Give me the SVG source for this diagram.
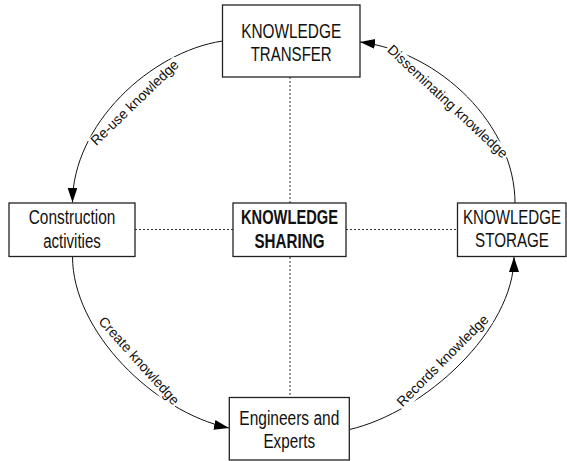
<svg xmlns="http://www.w3.org/2000/svg" width="567" height="461" viewBox="0 0 567 461">
  <style>
    .box { fill: #ffffff; stroke: #222222; stroke-width: 1.3; }
    .node-text { font-family: "Liberation Sans Narrow", "Arial Narrow", "Liberation Sans", Arial, sans-serif; font-size: 19.5px; fill: #111111; text-anchor: middle; }
    .bold { font-weight: bold; }
    .link { fill: none; stroke: #111111; stroke-width: 1; }
    .dotted { fill: none; stroke: #333333; stroke-width: 1; stroke-dasharray: 2 2; }
    .label { font-family: "Liberation Sans", Arial, sans-serif; font-size: 14px; fill: #111111; text-anchor: middle; }
    .label-bg { fill: #ffffff; }
  </style>
  <defs>
    <marker id="arrow" markerUnits="userSpaceOnUse" markerWidth="16" markerHeight="12" viewBox="0 0 16 12" refX="15" refY="6" orient="auto">
      <path d="M0,1 L15,6 L0,11 Z" fill="#000000"/>
    </marker>
  </defs>

  <rect width="567" height="461" fill="#ffffff"/>

  <!-- connectors -->
  <g id="connectors">
    <!-- dotted links to the central node -->
    <line class="dotted" x1="290" y1="77" x2="290" y2="203"/>
    <line class="dotted" x1="290" y1="257" x2="290" y2="397.5"/>
    <line class="dotted" x1="135" y1="229.5" x2="233" y2="229.5"/>
    <line class="dotted" x1="346" y1="229.5" x2="457.5" y2="229.5"/>

    <!-- cycle arcs -->
    <path id="reuse" class="link" d="M222.5,41 C150,52 72.5,125 72.5,202.5" marker-end="url(#arrow)"/>
    <path id="create" class="link" d="M72.5,256.5 C72.5,331.5 154,412 229,428" marker-end="url(#arrow)"/>
    <path id="records" class="link" d="M349.5,429.5 C425,412 514,330 514,257" marker-end="url(#arrow)"/>
    <path id="disseminate" class="link" d="M515,203 C515,125 440,52 360,42" marker-end="url(#arrow)"/>

    <!-- arc labels -->
    <g transform="translate(138,106) rotate(-44)">
      <rect class="label-bg" x="-60" y="-11" width="120" height="15"/>
      <text class="label" x="0" y="0">Re-use knowledge</text>
    </g>
    <g transform="translate(444.5,105) rotate(43)">
      <rect class="label-bg" x="-81" y="-11" width="162" height="15"/>
      <text class="label" x="0" y="0">Disseminating knowledge</text>
    </g>
    <g transform="translate(135.5,364) rotate(48)">
      <rect class="label-bg" x="-58" y="-11" width="116" height="15"/>
      <text class="label" x="0" y="0">Create knowledge</text>
    </g>
    <g transform="translate(446,364) rotate(-45)">
      <rect class="label-bg" x="-63" y="-11" width="126" height="15"/>
      <text class="label" x="0" y="0">Records knowledge</text>
    </g>
  </g>

  <!-- nodes -->
  <g id="knowledge-transfer">
    <rect class="box" x="222.5" y="5" width="137.5" height="72"/>
    <text class="node-text" x="291.2" y="37.5" textLength="100" lengthAdjust="spacingAndGlyphs">KNOWLEDGE</text>
    <text class="node-text" x="291.2" y="60.7" textLength="81" lengthAdjust="spacingAndGlyphs">TRANSFER</text>
  </g>

  <g id="construction-activities">
    <rect class="box" x="9" y="203" width="126" height="53.5"/>
    <text class="node-text" x="72" y="224.3" textLength="86.7" lengthAdjust="spacingAndGlyphs">Construction</text>
    <text class="node-text" x="72" y="247.7" textLength="57.7" lengthAdjust="spacingAndGlyphs">activities</text>
  </g>

  <g id="knowledge-sharing">
    <rect class="box" x="233" y="203" width="113" height="53.5"/>
    <text class="node-text bold" x="289.5" y="224.3" textLength="97" lengthAdjust="spacingAndGlyphs">KNOWLEDGE</text>
    <text class="node-text bold" x="289.5" y="247.7" textLength="70" lengthAdjust="spacingAndGlyphs">SHARING</text>
  </g>

  <g id="knowledge-storage">
    <rect class="box" x="457.5" y="203" width="108.5" height="53.5"/>
    <text class="node-text" x="512" y="223.5" textLength="98" lengthAdjust="spacingAndGlyphs">KNOWLEDGE</text>
    <text class="node-text" x="512" y="246.7" textLength="74" lengthAdjust="spacingAndGlyphs">STORAGE</text>
  </g>

  <g id="engineers-experts">
    <rect class="box" x="229.3" y="397.5" width="120" height="62.5"/>
    <text class="node-text" x="289.3" y="425" textLength="100" lengthAdjust="spacingAndGlyphs">Engineers and</text>
    <text class="node-text" x="289.3" y="448.3" textLength="51.7" lengthAdjust="spacingAndGlyphs">Experts</text>
  </g>
</svg>
